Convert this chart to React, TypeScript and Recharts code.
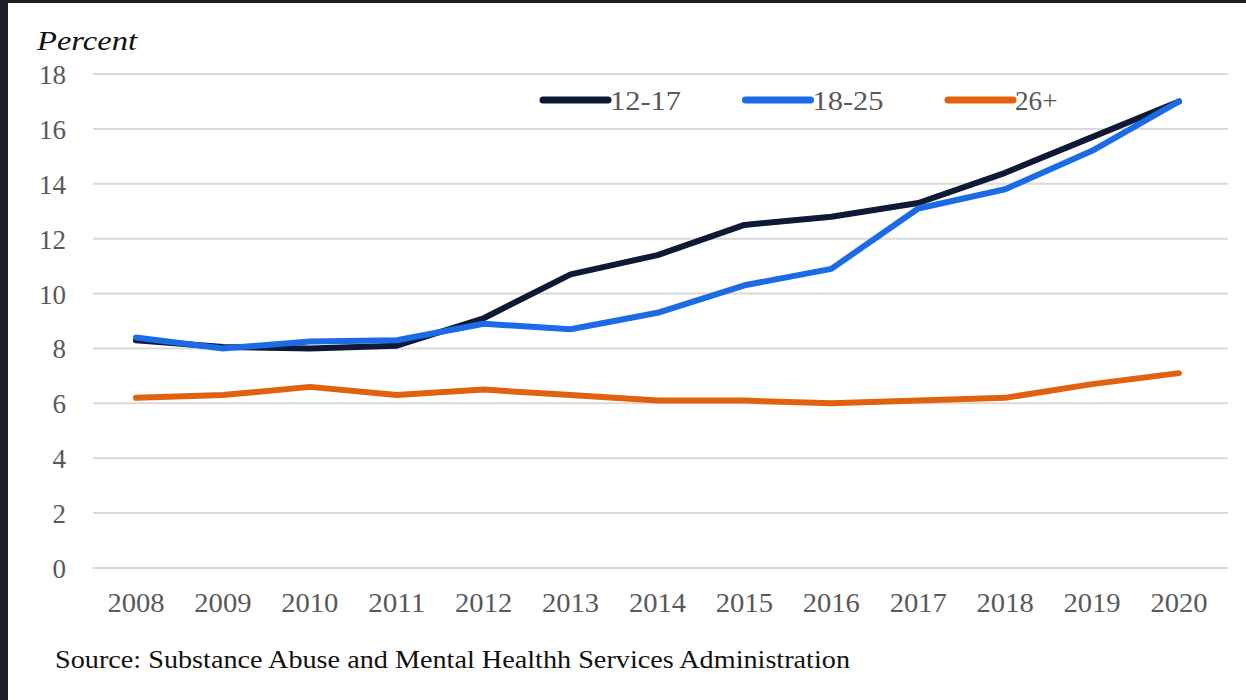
import React from "react";
import { LineChart, Line, XAxis, YAxis, CartesianGrid, Legend } from "recharts";

const years = ["2008", "2009", "2010", "2011", "2012", "2013", "2014", "2015", "2016", "2017", "2018", "2019", "2020"];
const age12to17 = [8.3, 8.05, 8.0, 8.1, 9.1, 10.7, 11.4, 12.5, 12.8, 13.3, 14.4, 15.7, 17.0];
const age18to25 = [8.4, 8.0, 8.25, 8.3, 8.9, 8.7, 9.3, 10.3, 10.9, 13.1, 13.8, 15.2, 17.0];
const age26plus = [6.2, 6.3, 6.6, 6.3, 6.5, 6.3, 6.1, 6.1, 6.0, 6.1, 6.2, 6.7, 7.1];
const yTicks = [0, 2, 4, 6, 8, 10, 12, 14, 16, 18];

const data = years.map((year, i) => ({
  year,
  "12-17": age12to17[i],
  "18-25": age18to25[i],
  "26+": age26plus[i],
}));

const SERIF = "Liberation Serif, Times New Roman, serif";

function YTick(props: any) {
  const { x, y, payload } = props;
  const label = String(payload.value);
  return (
    <text
      x={x}
      y={y + 10}
      textAnchor="end"
      fill="#595959"
      style={{ fontFamily: SERIF }}
      fontSize={28}
      textLength={label.length * 13.5}
      lengthAdjust="spacingAndGlyphs"
    >
      {label}
    </text>
  );
}

function XTick(props: any) {
  const { x, y, payload } = props;
  const label = String(payload.value);
  return (
    <text
      x={x}
      y={y}
      textAnchor="middle"
      fill="#595959"
      style={{ fontFamily: SERIF }}
      fontSize={28}
      textLength={label.length * 14.3}
      lengthAdjust="spacingAndGlyphs"
    >
      {label}
    </text>
  );
}

function LegendContent(props: any) {
  const items = props.payload || [];
  return (
    <svg width={560} height={30} style={{ display: "block" }}>
      {items.map((item: any, i: number) => {
        const x0 = i * 202.5;
        const label = String(item.value);
        return (
          <g key={label}>
            <line x1={x0 + 4} x2={x0 + 69} y1={15} y2={15} stroke={item.color} strokeWidth={7} strokeLinecap="round" />
            <text
              x={x0 + 71}
              y={25}
              fill="#595959"
              style={{ fontFamily: SERIF }}
              fontSize={28}
              textLength={label.length * 14.2}
              lengthAdjust="spacingAndGlyphs"
            >
              {label}
            </text>
          </g>
        );
      })}
    </svg>
  );
}

export default function App() {
  return (
    <div style={{ position: "fixed", left: 0, top: 0, width: 1246, height: 700, background: "#1f1d27" }}>
      <div style={{ position: "absolute", left: 8, top: 3, width: 1238, height: 697, background: "#ffffff" }} />
      <div style={{ position: "absolute", left: 0, top: 0 }}>
        <LineChart width={1246} height={700} data={data} margin={{ top: 74, right: 18, bottom: 72, left: 0 }}>
          <CartesianGrid vertical={false} stroke="#d9d9d9" strokeWidth={2} />
          <XAxis
            dataKey="year"
            axisLine={false}
            tickLine={false}
            tickSize={0}
            tickMargin={44}
            padding={{ left: 43, right: 49 }}
            tick={<XTick />}
            interval={0}
          />
          <YAxis
            width={93}
            domain={[0, 18]}
            ticks={yTicks}
            axisLine={false}
            tickLine={false}
            tickSize={0}
            tickMargin={27}
            tick={<YTick />}
          />
          <Legend
            content={<LegendContent />}
            wrapperStyle={{ position: "absolute", top: 85, left: 539, width: 560, height: 30 }}
          />
          <Line
            dataKey="12-17"
            stroke="#0c1a36"
            strokeWidth={6}
            strokeLinecap="round"
            strokeLinejoin="round"
            dot={false}
            type="linear"
            isAnimationActive={false}
          />
          <Line
            dataKey="18-25"
            stroke="#1c6be6"
            strokeWidth={6}
            strokeLinecap="round"
            strokeLinejoin="round"
            dot={false}
            type="linear"
            isAnimationActive={false}
          />
          <Line
            dataKey="26+"
            stroke="#e0620f"
            strokeWidth={6}
            strokeLinecap="round"
            strokeLinejoin="round"
            dot={false}
            type="linear"
            isAnimationActive={false}
          />
          <text
            x={37}
            y={50}
            fill="#111111"
            style={{ fontFamily: SERIF }}
            fontStyle="italic"
            fontSize={27}
            textLength={100}
            lengthAdjust="spacingAndGlyphs"
          >
            Percent
          </text>
          <text
            x={55}
            y={668}
            fill="#111111"
            style={{ fontFamily: SERIF }}
            fontSize={26}
            textLength={795}
            lengthAdjust="spacingAndGlyphs"
          >
            Source: Substance Abuse and Mental Healthh Services Administration
          </text>
        </LineChart>
      </div>
    </div>
  );
}
